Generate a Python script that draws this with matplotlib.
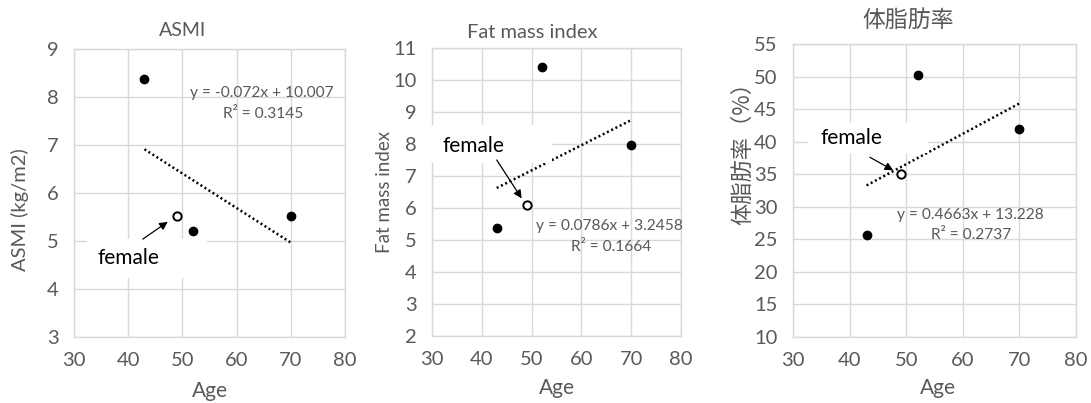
import matplotlib
matplotlib.use('Agg')
import matplotlib.pyplot as plt
from matplotlib.patches import Rectangle
import numpy as np

plt.rcParams['font.family'] = ['Lato', 'DejaVu Sans']

# ---------------- data ----------------
titles = ['ASMI', 'Fat mass index', '体脂肪率']
ylabels = ['ASMI (kg/m2)', 'Fat mass index', '体脂肪率（%）']
xlabel = 'Age'
female_label = 'female'

male_age = [43, 52, 70]
asmi_male = [8.38, 5.20, 5.53]
fmi_male = [5.38, 10.40, 7.97]
bfp_male = [25.7, 50.2, 41.9]

female_age = [49]
asmi_female = [5.52]
fmi_female = [6.08]
bfp_female = [35.0]

trend_x_range = [43, 70]
slopes = [-0.072, 0.0786, 0.4663]
intercepts = [10.007, 3.2458, 13.228]
eq_labels = ['y = -0.072x + 10.007', 'y = 0.0786x + 3.2458', 'y = 0.4663x + 13.228']
r2_labels = ['R² = 0.3145', 'R² = 0.1664', 'R² = 0.2737']

xticks = [30, 40, 50, 60, 70, 80]
yticks_list = [[3, 4, 5, 6, 7, 8, 9],
               [2, 3, 4, 5, 6, 7, 8, 9, 10, 11],
               [10, 15, 20, 25, 30, 35, 40, 45, 50, 55]]

male_values = [asmi_male, fmi_male, bfp_male]
female_values = [asmi_female, fmi_female, bfp_female]

# ---------------- layout ----------------
W, H = 1091, 403
axes_px = [(74, 49, 345, 337), (432, 48, 681, 336), (793, 44, 1076, 337)]
title_px = [(183, 30, 14, 'Lato'), (532, 32, 14.5, 'Lato'), (908, 20, 16.5, 'Noto Sans CJK JP')]
ylabel_px = [(20, 210, 14.5, 'Lato'), (385, 192, 13.5, 'Lato'), (743, 148, 16, 'Noto Sans CJK JP')]
xlabel_px = [(210, 391), (557, 388), (938, 388)]
eq_pos = [((64.7, 8.08), (64.9, 7.65)), ((65.7, 5.44), (65.9, 4.78)), ((61.3, 28.7), (61.5, 25.7))]
female_text = [(40.0, 4.65), (38.4, 7.94), (40.4, 40.6)]
box = [(32.4, 4.23, 54.5, 5.04), (29.6, 7.4, 54.1, 8.6), (32.6, 38.3, 53.9, 42.9)]
arrows = [((42.7, 5.04), (47.3, 5.40)), ((43.0, 7.5), (48.0, 6.3)), ((43.6, 37.6), (47.7, 35.6))]

grid_c = '#d9d9d9'
text_c = '#595959'

fig = plt.figure(figsize=(W / 100, H / 100), dpi=100)

for i in range(3):
    l, t, r, b = axes_px[i]
    ax = fig.add_axes([l / W, 1 - b / H, (r - l) / W, (b - t) / H])
    yt = yticks_list[i]
    ax.set_xlim(xticks[0], xticks[-1])
    ax.set_ylim(yt[0], yt[-1])
    ax.set_xticks(xticks)
    ax.set_yticks(yt)
    ax.grid(True, color=grid_c, lw=1.0, zorder=0)
    ax.set_axisbelow(True)
    for s in ax.spines.values():
        s.set_color(grid_c)
        s.set_linewidth(1.0)
        s.set_zorder(0.5)
    ax.tick_params(length=0, colors=text_c, labelsize=14.5, pad=11)
    ax.tick_params(axis='x', pad=11)

    # trend line
    tx = np.array(trend_x_range, dtype=float)
    ax.plot(tx, slopes[i] * tx + intercepts[i], color='black', lw=1.8,
            linestyle=(0, (0.8, 1.1)), zorder=2)

    # white label box
    x0, y0, x1, y1 = box[i]
    ax.add_patch(Rectangle((x0, y0), x1 - x0, y1 - y0, facecolor='white',
                           edgecolor='none', zorder=3, clip_on=False))

    # points
    ax.plot(male_age, male_values[i], 'o', color='black', ms=6, zorder=5)
    ax.plot(female_age, female_values[i], 'o', mfc='white', mec='black',
            mew=1.4, ms=6, zorder=5)

    # female label & arrow
    ax.text(*female_text[i], female_label, fontsize=15, color='black',
            ha='center', va='center', zorder=6)
    ax.annotate('', xy=arrows[i][1], xytext=arrows[i][0],
                arrowprops=dict(arrowstyle='-|>', color='black', lw=0.9,
                                mutation_scale=12, shrinkA=0, shrinkB=0),
                zorder=6)

    # equation
    ax.text(*eq_pos[i][0], eq_labels[i], fontsize=11.2, color=text_c,
            ha='center', va='center', zorder=6)
    ax.text(*eq_pos[i][1], r2_labels[i], fontsize=11.2, color=text_c,
            ha='center', va='center', zorder=6)

    # titles & labels
    tx_, ty_, tfs, tff = title_px[i]
    fig.text(tx_ / W, 1 - ty_ / H, titles[i], fontsize=tfs, color=text_c,
             ha='center', va='center', family=[tff, 'DejaVu Sans'])
    yx, yy, yfs, yff = ylabel_px[i]
    fig.text(yx / W, 1 - yy / H, ylabels[i], fontsize=yfs, color=text_c,
             ha='center', va='center', rotation=90, family=[yff, 'DejaVu Sans'])
    xx, xy = xlabel_px[i]
    fig.text(xx / W, 1 - xy / H, xlabel, fontsize=15, color=text_c,
             ha='center', va='center')

fig.savefig('out.png', dpi=100)
